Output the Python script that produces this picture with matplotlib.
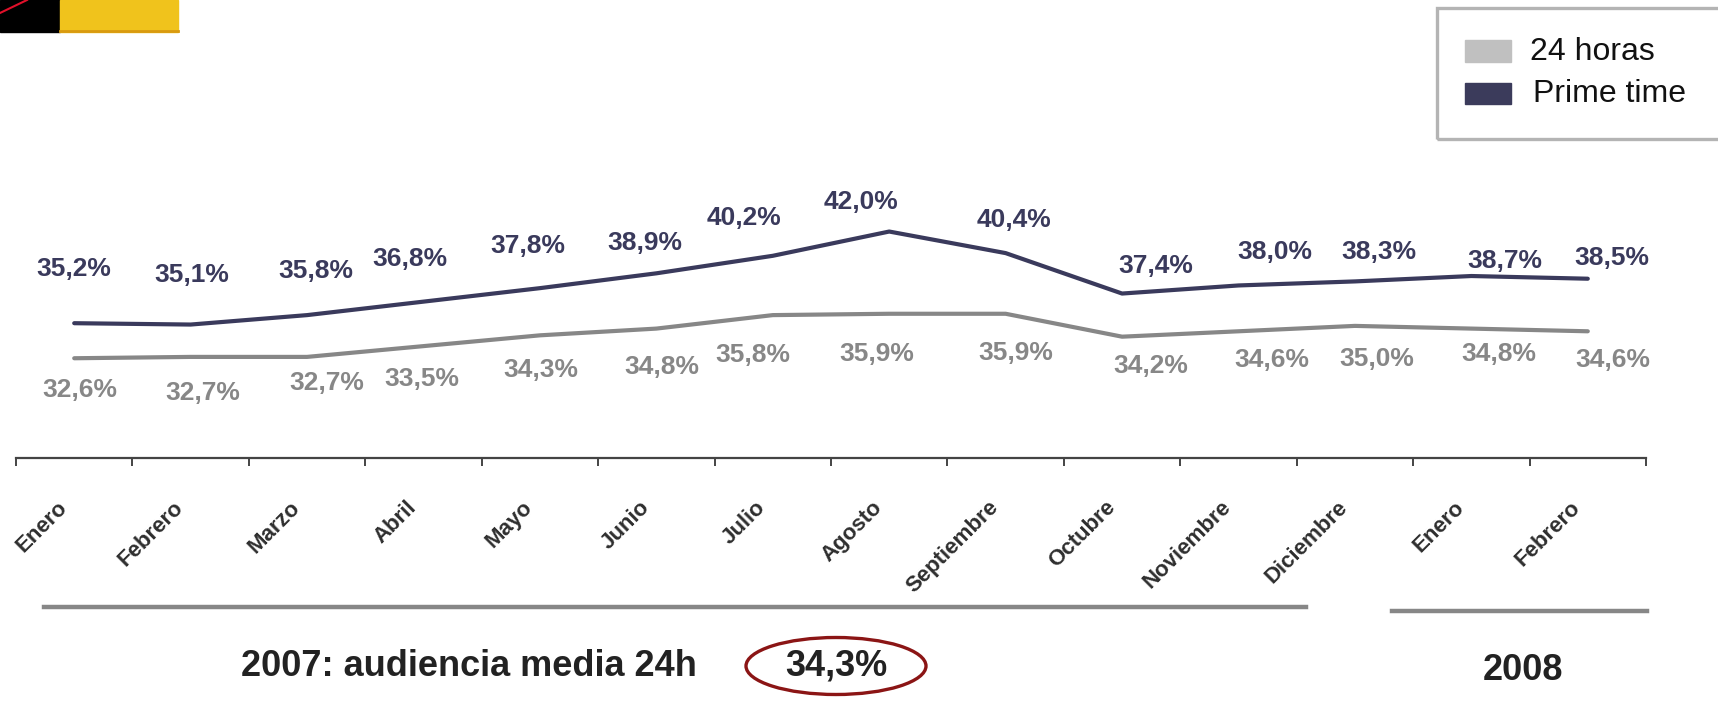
import matplotlib.pyplot as plt
from matplotlib.patches import Rectangle, Ellipse
from matplotlib.transforms import blended_transform_factory, offset_copy
from matplotlib.lines import Line2D
import numpy as np

plt.rcParams['font.family'] = ['Liberation Sans', 'DejaVu Sans']

months = ["Enero", "Febrero", "Marzo", "Abril", "Mayo", "Junio", "Julio",
          "Agosto", "Septiembre", "Octubre", "Noviembre", "Diciembre",
          "Enero", "Febrero"]
prime_time = [35.2, 35.1, 35.8, 36.8, 37.8, 38.9, 40.2, 42.0, 40.4, 37.4,
              38.0, 38.3, 38.7, 38.5]
horas_24 = [32.6, 32.7, 32.7, 33.5, 34.3, 34.8, 35.8, 35.9, 35.9, 34.2,
            34.6, 35.0, 34.8, 34.6]
media_2007 = 34.3

# label offsets in points (dx, dy)
prime_off = [(0, 39), (1, 36), (6, 32), (-10, 31), (-9, 30), (-8, 22), (-21, 27),
             (-20, 21), (6, 24), (24, 20), (26, 24), (17, 21), (24, 11), (17, 15)]
h24_off = [(4, -23), (9, -26), (14, -19), (-1, -24), (1, -25), (4, -28), (-14, -29),
           (-9, -29), (7, -28), (21, -21), (24, -21), (16, -24), (20, -18), (18, -21)]

NAVY = '#3a3a5c'
GREY = '#878787'
W, H = 1718, 715


def fx(x):
    return x / W


def fy(y):
    return 1 - y / H


fig = plt.figure(figsize=(W / 100, H / 100), dpi=100)

ax = fig.add_axes([fx(16), fy(458), (1646 - 16) / W, 269.6 / H])
x = np.arange(len(months)) + 0.5
ax.plot(x, horas_24, color=GREY, lw=3, solid_capstyle='round')
ax.plot(x, prime_time, color=NAVY, lw=3, solid_capstyle='round')

for xi, v, (dx, dy) in zip(x, prime_time, prime_off):
    ax.annotate(f"{v:.1f}%".replace('.', ','), (xi, v), xytext=(dx, dy),
                textcoords='offset points', ha='center', va='center',
                fontsize=19, fontweight='bold', color=NAVY)
for xi, v, (dx, dy) in zip(x, horas_24, h24_off):
    ax.annotate(f"{v:.1f}%".replace('.', ','), (xi, v), xytext=(dx, dy),
                textcoords='offset points', ha='center', va='center',
                fontsize=19, fontweight='bold', color=GREY)

ax.set_xlim(0, len(months))
ax.set_ylim(25.2, 45.2)
for s in ['top', 'right', 'left']:
    ax.spines[s].set_visible(False)
ax.spines['bottom'].set_color('#444444')
ax.spines['bottom'].set_linewidth(1.6)
ax.set_yticks([])
ax.set_xticks(np.arange(len(months) + 1))
ax.set_xticklabels([])
ax.tick_params(axis='x', length=6, width=1.4, color='#444444', direction='out')

trans = blended_transform_factory(ax.transData, ax.transAxes)
trans = offset_copy(trans, fig=fig, x=-2, y=-28, units='points')
for xi, m in zip(x, months):
    ax.text(xi, 0, m, transform=trans, rotation=45, ha='right', va='top',
            fontsize=16, fontweight='bold', color='#2e2e2e')

# period lines and captions
fig.add_artist(Line2D([fx(44), fx(1306)], [fy(607), fy(607)], color=GREY, lw=3.2))
fig.add_artist(Line2D([fx(1392), fx(1647)], [fy(611), fy(611)], color=GREY, lw=3.2))
fig.text(fx(469), fy(666), "2007: audiencia media 24h", ha='center', va='center',
         fontsize=26, fontweight='bold', color='#222222')
fig.text(fx(836), fy(666), f"{media_2007:.1f}%".replace('.', ','), ha='center',
         va='center', fontsize=26, fontweight='bold', color='#222222')
fig.add_artist(Ellipse((fx(836), fy(666)), 180 / W, 57 / H, fill=False,
                       edgecolor='#8b1515', lw=2.4, transform=fig.transFigure))
fig.text(fx(1523), fy(670), "2008", ha='center', va='center',
         fontsize=26, fontweight='bold', color='#222222')

# legend box
fig.add_artist(Rectangle((fx(1437), fy(139)), (1760 - 1437) / W, 131 / H,
                         transform=fig.transFigure, fill=False,
                         edgecolor='#b4b4b4', lw=2.4))
fig.add_artist(Rectangle((fx(1465), fy(62)), 46 / W, 22 / H,
                         transform=fig.transFigure, color='#c0c0c0'))
fig.add_artist(Rectangle((fx(1465), fy(104)), 46 / W, 21 / H,
                         transform=fig.transFigure, color='#3b3b5b'))
fig.text(fx(1530), fy(52), "24 horas", ha='left', va='center', fontsize=23, color='#111111')
fig.text(fx(1533), fy(94), "Prime time", ha='left', va='center', fontsize=23, color='#111111')

# logo corner
fig.add_artist(Rectangle((0, fy(32)), 60 / W, 32 / H, transform=fig.transFigure,
                         color='black'))
fig.add_artist(Rectangle((fx(60), fy(32)), 118 / W, 32 / H, transform=fig.transFigure,
                         color='#f0c31c'))
fig.add_artist(Line2D([0, fx(27)], [fy(13), fy(0)], color='#e0102a', lw=1.5))
fig.add_artist(Line2D([fx(60), fx(178)], [fy(31), fy(31)], color='#d99a10', lw=2))

fig.savefig('out.png', dpi=100)
